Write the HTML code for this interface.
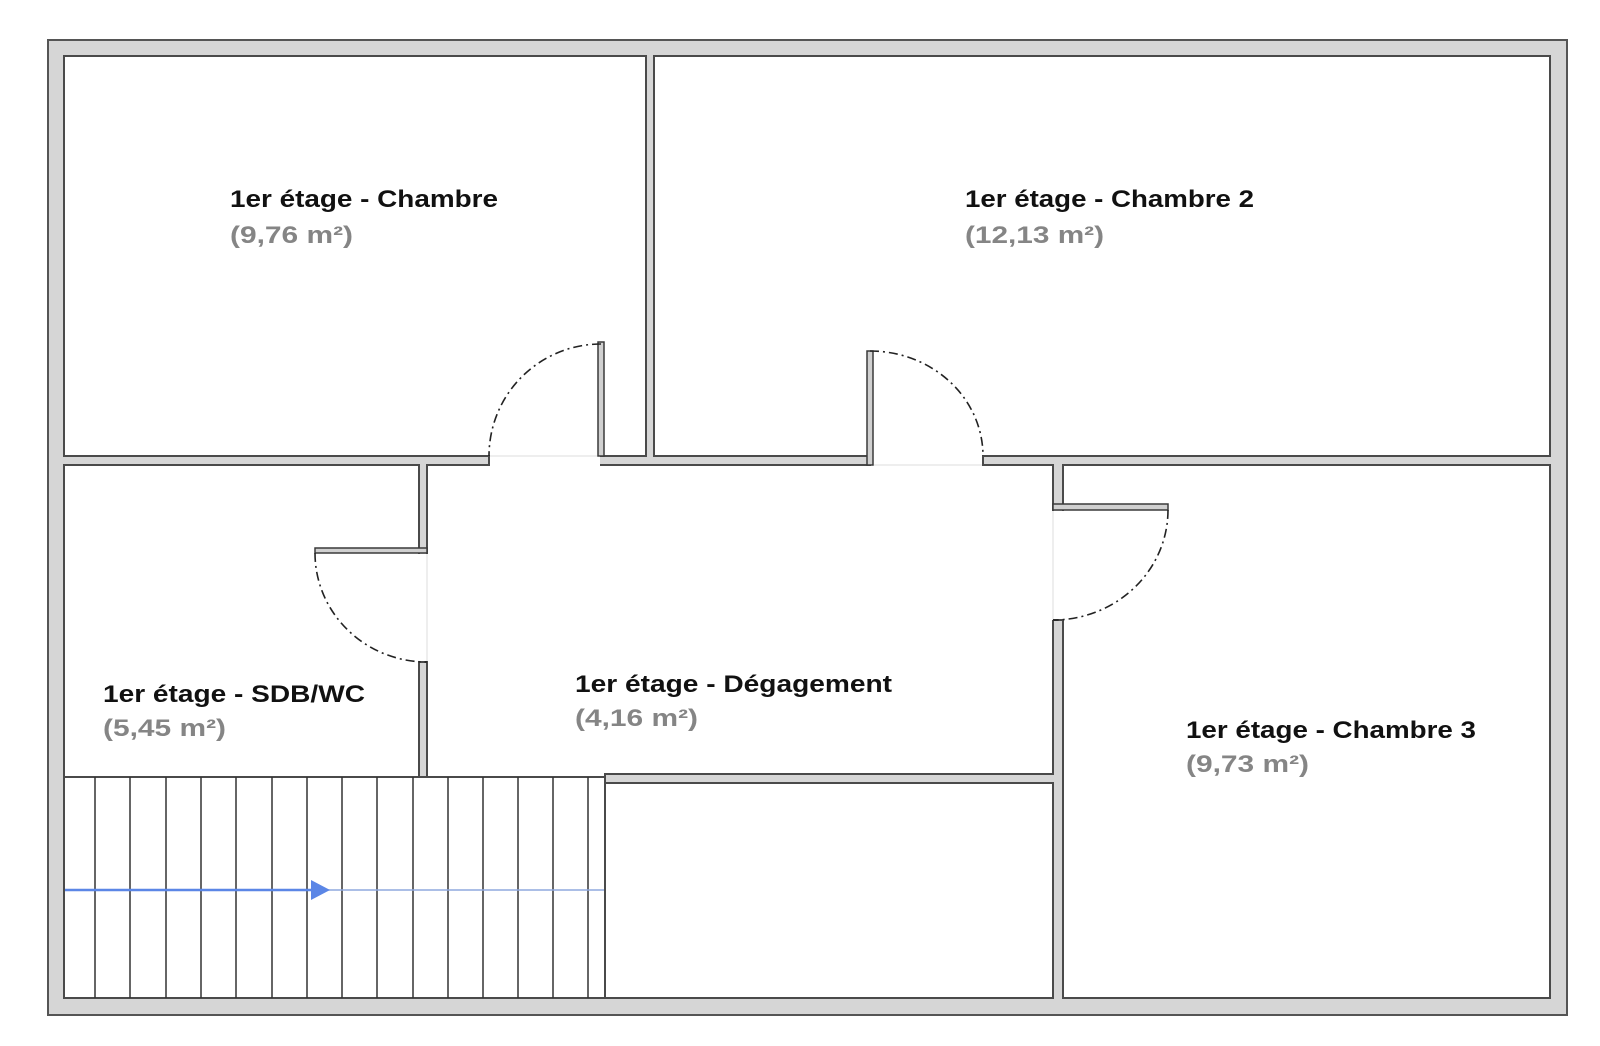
<!DOCTYPE html>
<html><head><meta charset="utf-8"><style>
html,body{margin:0;padding:0;background:#fff;}
svg{display:block;}
text{font-family:"Liberation Sans",sans-serif;font-weight:bold;font-size:24px;}
</style></head><body>
<svg width="1600" height="1046" viewBox="0 0 1600 1046" xmlns="http://www.w3.org/2000/svg">
<rect x="0" y="0" width="1600" height="1046" fill="#fff"/>
<rect x="48" y="40" width="1519" height="975" fill="#d6d6d6" stroke="#555" stroke-width="2"/>
<g fill="#fff" stroke="#4a4a4a" stroke-width="2">
<rect x="64" y="56" width="582" height="400"/>
<rect x="654" y="56" width="896" height="400"/>
<rect x="64" y="465" width="355" height="312"/>
<polygon points="427,465 1053,465 1053,774 605,774 605,777 427,777"/>
<rect x="64" y="777" width="541" height="221"/>
<rect x="605" y="783" width="448" height="215"/>
<rect x="1063" y="465" width="487" height="533"/>
</g>
<!-- door gaps -->
<g fill="#fff">
<rect x="490" y="455" width="110" height="11"/>
<rect x="871" y="455" width="111" height="11"/>
<rect x="418" y="554" width="10" height="107"/>
<rect x="1052" y="511" width="12" height="109"/>
</g>
<g stroke="#ddd" stroke-width="1">
<line x1="490" y1="456" x2="600" y2="456"/>
<line x1="871" y1="465" x2="982" y2="465"/>
<line x1="427" y1="554" x2="427" y2="661"/>
<line x1="1053" y1="511" x2="1053" y2="620"/>
</g>
<g stroke="#4a4a4a" stroke-width="2">
<line x1="489" y1="456" x2="489" y2="465"/>
<line x1="983" y1="456" x2="983" y2="465"/>
<line x1="419" y1="662" x2="427" y2="662"/>
<line x1="1053" y1="620" x2="1063" y2="620"/>
</g>
<!-- door leaves -->
<g fill="#d0d0d0" stroke="#3a3a3a" stroke-width="1.5">
<rect x="598" y="342" width="6" height="114"/>
<rect x="867" y="351" width="6" height="114"/>
<rect x="315" y="548" width="112" height="5"/>
<rect x="1053" y="504" width="115" height="6"/>
</g>
<g fill="none" stroke="#222" stroke-width="1.6" stroke-dasharray="9 4 2 4">
<path d="M601,344 A112,112 0 0 0 489,456"/>
<path d="M870,351 A113,105 0 0 1 983,456"/>
<path d="M315,553 A112,109 0 0 0 427,662"/>
<path d="M1168,510 A115,110 0 0 1 1053,620"/>
</g>
<!-- stairs -->
<g stroke="#333" stroke-width="1.5">
<line x1="95" y1="777" x2="95" y2="998"/>
<line x1="130" y1="777" x2="130" y2="998"/>
<line x1="166" y1="777" x2="166" y2="998"/>
<line x1="201" y1="777" x2="201" y2="998"/>
<line x1="236" y1="777" x2="236" y2="998"/>
<line x1="272" y1="777" x2="272" y2="998"/>
<line x1="307" y1="777" x2="307" y2="998"/>
<line x1="342" y1="777" x2="342" y2="998"/>
<line x1="377" y1="777" x2="377" y2="998"/>
<line x1="413" y1="777" x2="413" y2="998"/>
<line x1="448" y1="777" x2="448" y2="998"/>
<line x1="483" y1="777" x2="483" y2="998"/>
<line x1="518" y1="777" x2="518" y2="998"/>
<line x1="553" y1="777" x2="553" y2="998"/>
<line x1="588" y1="777" x2="588" y2="998"/>
</g>
<line x1="65" y1="890" x2="312" y2="890" stroke="#5b86e6" stroke-width="2.5"/>
<line x1="312" y1="890" x2="604" y2="890" stroke="#8fa8de" stroke-width="1.5"/>
<polygon points="311,880 311,900 330,890" fill="#5b86e6"/>
<!-- labels -->
<g fill="#111">
<text x="230" y="207" textLength="268" lengthAdjust="spacingAndGlyphs">1er étage - Chambre</text>
<text x="965" y="207" textLength="289" lengthAdjust="spacingAndGlyphs">1er étage - Chambre 2</text>
<text x="103" y="702" textLength="262" lengthAdjust="spacingAndGlyphs">1er étage - SDB/WC</text>
<text x="575" y="692" textLength="317" lengthAdjust="spacingAndGlyphs">1er étage - Dégagement</text>
<text x="1186" y="738" textLength="290" lengthAdjust="spacingAndGlyphs">1er étage - Chambre 3</text>
</g>
<g fill="#858585">
<text x="230" y="243" textLength="123" lengthAdjust="spacingAndGlyphs">(9,76 m²)</text>
<text x="965" y="243" textLength="139" lengthAdjust="spacingAndGlyphs">(12,13 m²)</text>
<text x="103" y="736" textLength="123" lengthAdjust="spacingAndGlyphs">(5,45 m²)</text>
<text x="575" y="726" textLength="123" lengthAdjust="spacingAndGlyphs">(4,16 m²)</text>
<text x="1186" y="772" textLength="123" lengthAdjust="spacingAndGlyphs">(9,73 m²)</text>
</g>
</svg>
</body></html>
